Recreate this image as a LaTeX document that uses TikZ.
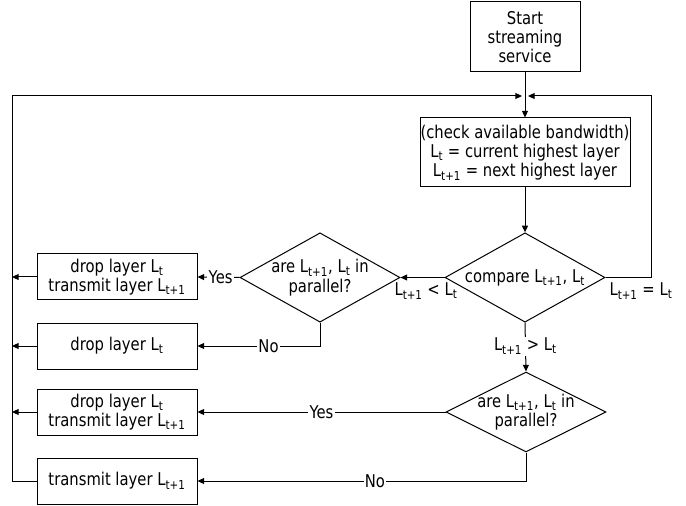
\documentclass[tikz,border=0pt]{standalone}
\usepackage{fontspec}
\setmainfont{DejaVu Sans}[FakeStretch=0.84]
\usetikzlibrary{shapes.geometric,arrows.meta}
\newcommand\Lt{L\textsubscript{t}}
\newcommand\Ltt{L\textsubscript{t+1}}
\begin{document}
\begin{tikzpicture}[x=0.75pt,y=-0.75pt,
  every node/.style={font=\fontsize{13.2}{14.5}\selectfont},
  box/.style={draw,line width=0.75pt,rectangle,align=center,inner sep=0pt,minimum width=120pt,minimum height=34.5pt},
  dia/.style={draw,line width=0.75pt,diamond,inner sep=0pt,minimum width=120pt,minimum height=67pt},
  txt/.style={align=center,inner sep=1pt},
  lbl/.style={fill=white,inner sep=1pt},
  line/.style={line width=0.75pt},
  arr/.style={line width=0.75pt,-{Triangle[length=5pt,width=4.5pt]}}]
\useasboundingbox (0,0) rectangle (686,506);
% nodes
\node[box,minimum width=82.5pt,minimum height=52.5pt] (start) at (525,37) {Start\\streaming\\service};
\node[box,minimum width=157.5pt,minimum height=51.75pt] (check) at (525,152.5) {(check available bandwidth)\\\Lt{} = current highest layer\\\Ltt{} = next highest layer};
\node[dia] (c1) at (525,277.5) {};
\node[txt] (c1t) at (c1) {compare \Ltt, \Lt};
\node[dia] (d1) at (320,277.5) {};
\node[txt] (d1t) at (d1) {are \Ltt, \Lt{} in\\parallel?};
\node[dia,minimum height=60pt] (d2) at (526,412) {};
\node[txt] (d2t) at (d2) {are \Ltt, \Lt{} in\\parallel?};
\node[box] (b1) at (117,277) {drop layer \Lt\\transmit layer \Ltt};
\node[box] (b2) at (117,346) {drop layer \Lt};
\node[box] (b3) at (117,412) {drop layer \Lt\\transmit layer \Ltt};
\node[box] (b4) at (117,481) {transmit layer \Ltt};
\node[txt] (lless) at (426,291) {\Ltt{} < \Lt};
\node[txt] (leq) at (641,291) {\Ltt{} = \Lt};
% coordinates
\coordinate (mL) at (522,96);
\coordinate (mR) at (528,96);
\coordinate (lp) at (12,96);
\coordinate (rp) at (651,96);
% connectors
\draw[arr] (start) -- (check);
\draw[arr] (check) -- (c1);
\draw[arr] (c1.east) -- (c1.east -| rp) -- (rp) -- (mR);
\draw[arr] (b4.west) -- (b4.west -| lp) -- (lp) -- (mL);
\draw[arr] (c1.west) -- (d1.east);
\draw[arr] (d1.west) -- node[lbl,pos=0.45] {Yes} (b1.east);
\draw[arr] (d1.south) |- node[lbl,pos=0.71] {No} (b2.east);
\draw[arr] (c1.south) -- node[lbl,pos=0.48] {\Ltt{} > \Lt} (d2.north);
\draw[arr] (d2.west) -- node[lbl,pos=0.5] {Yes} (b3.east);
\draw[arr] (d2.south) |- node[lbl,pos=0.73] {No} (b4.east);
\draw[arr] (b1.west) -- (b1.west -| lp);
\draw[arr] (b2.west) -- (b2.west -| lp);
\draw[arr] (b3.west) -- (b3.west -| lp);
\end{tikzpicture}
\end{document}
